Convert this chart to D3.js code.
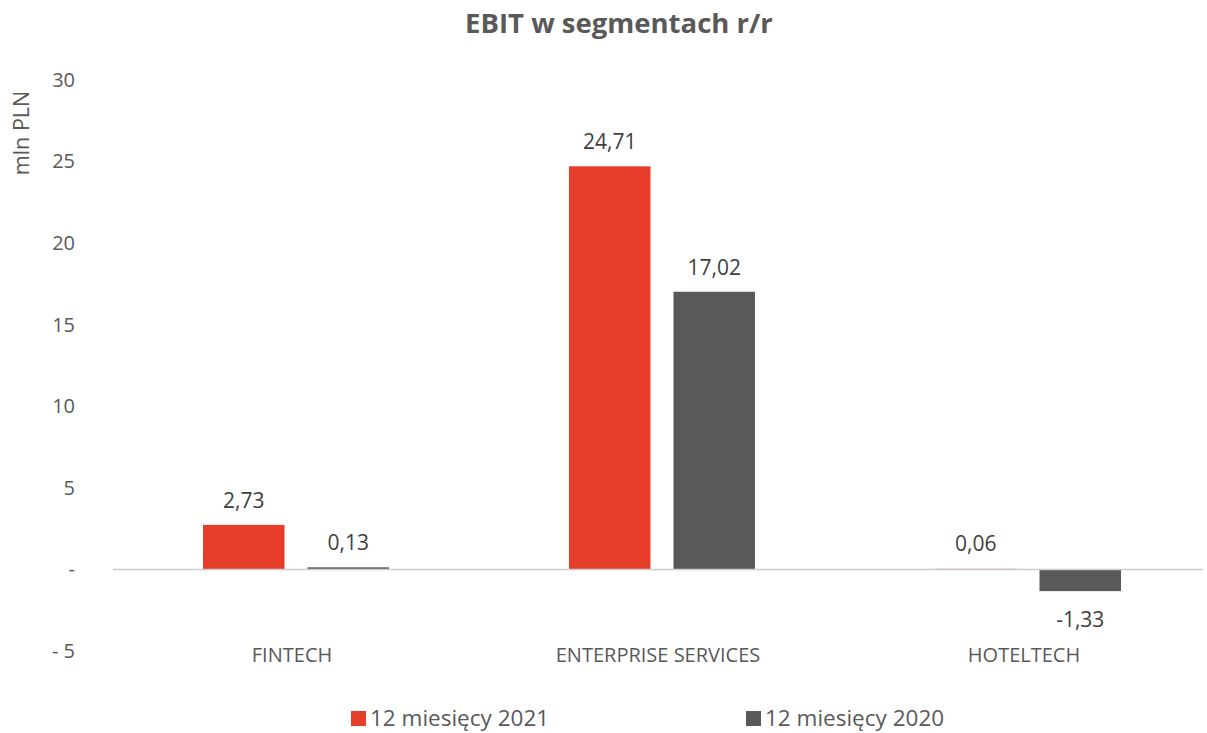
<!DOCTYPE html>
<html><head><meta charset="utf-8">
<script src="https://cdn.jsdelivr.net/npm/d3@7"></script>
<style>body{margin:0;background:#fff;} text{font-family:"Open Sans","Liberation Sans",sans-serif;}</style>
</head><body>
<svg id="c" width="1207" height="733"></svg>
<script>
const categories = ["FINTECH", "ENTERPRISE SERVICES", "HOTELTECH"];
const seriesNames = ["12 miesięcy 2021", "12 miesięcy 2020"];
const values2021 = [2.73, 24.71, 0.06];
const values2020 = [0.13, 17.02, -1.33];
const tickValues = [-5, 0, 5, 10, 15, 20, 25, 30];
const tickLabels = ["- 5", "-", "5", "10", "15", "20", "25", "30"];
const colors = ["#E63E2B", "#595959"];

const svg = d3.select("#c");
const x = d3.scaleBand().domain(categories).range([113, 1211]);
const xs = d3.scaleBand().domain(seriesNames).range([-52 - 41, 52 + 41]).paddingInner(0.22);
const y = d3.scaleLinear().domain([-5, 30]).range([651, 80]);
const series = [values2021, values2020];
const fmt = d => d3.format(".2f")(d).replace(".", ",").replace("\u2212", "-");

// title
svg.append("text").attr("x", 619).attr("y", 33).attr("text-anchor", "middle")
  .attr("font-size", 27.5).attr("font-weight", "bold").attr("fill", "#595959").text("EBIT w segmentach r/r");

// y axis labels
const yAxis = d3.axisLeft(y).tickValues(tickValues).tickSize(0).tickPadding(0).tickFormat((d, i) => tickLabels[i]);
const ga = svg.append("g").attr("transform", "translate(75,0)").call(yAxis);
ga.select(".domain").remove();
ga.selectAll("text").attr("font-size", 20).attr("fill", "#595959").attr("font-family", "Open Sans, Liberation Sans, sans-serif");

svg.append("text").attr("transform", "translate(29,133) rotate(-90)").attr("text-anchor", "middle")
  .attr("font-size", 21.5).attr("fill", "#595959").text("mln PLN");

// bars
series.forEach((vals, si) => {
  svg.append("g").selectAll("rect").data(vals).join("rect")
    .attr("x", (d, i) => x(categories[i]) + x.bandwidth() / 2 + xs(seriesNames[si]))
    .attr("width", xs.bandwidth())
    .attr("y", d => Math.min(y(d), y(0)))
    .attr("height", d => Math.max(Math.abs(y(d) - y(0)), 1))
    .attr("fill", colors[si])
    .attr("opacity", (d) => (si === 0 && d < 0.1) ? 0.3 : 1);
  svg.append("g").selectAll("text").data(vals).join("text")
    .attr("x", (d, i) => x(categories[i]) + x.bandwidth() / 2 + xs(seriesNames[si]) + xs.bandwidth() / 2)
    .attr("y", d => d >= 0 ? y(d) - 17 : y(d) + 36)
    .attr("text-anchor", "middle").attr("font-size", 21).attr("fill", "#404040")
    .text(fmt);
});

// zero line
svg.append("line").attr("x1", 113).attr("x2", 1203).attr("y1", y(0)).attr("y2", y(0))
  .attr("stroke", "#cccccc").attr("stroke-width", 1.5);

// x axis labels
const xAxis = d3.axisBottom(x).tickSize(0).tickPadding(0);
const gx = svg.append("g").attr("transform", "translate(-4,648)").call(xAxis);
gx.select(".domain").remove();
gx.selectAll("text").attr("font-size", 20).attr("fill", "#595959").attr("font-family", "Open Sans, Liberation Sans, sans-serif");

// legend
const legX = [351, 746];
seriesNames.forEach((n, i) => {
  svg.append("rect").attr("x", legX[i]).attr("y", 711).attr("width", 15).attr("height", 15).attr("fill", colors[i]);
  svg.append("text").attr("x", legX[i] + 19).attr("y", 726).attr("font-size", 22.5).attr("fill", "#595959").text(n);
});
</script>
</body></html>
